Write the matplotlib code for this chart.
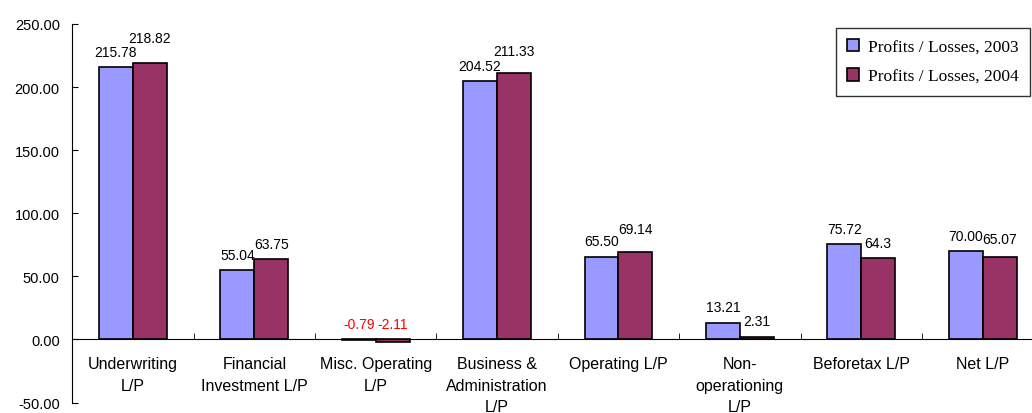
import matplotlib
matplotlib.use("Agg")
import matplotlib.pyplot as plt
import numpy as np

categories = ["Underwriting\nL/P", "Financial\nInvestment L/P", "Misc. Operating\nL/P",
              "Business &\nAdministration\nL/P", "Operating L/P", "Non-\noperationing\nL/P",
              "Beforetax L/P", "Net L/P"]
values_2003 = [215.78, 55.04, -0.79, 204.52, 65.50, 13.21, 75.72, 70.00]
values_2004 = [218.82, 63.75, -2.11, 211.33, 69.14, 2.31, 64.3, 65.07]
labels_2003 = ["215.78", "55.04", "-0.79", "204.52", "65.50", "13.21", "75.72", "70.00"]
labels_2004 = ["218.82", "63.75", "-2.11", "211.33", "69.14", "2.31", "64.3", "65.07"]
series_names = ["Profits / Losses, 2003", "Profits / Losses, 2004"]
yticks = [-50, 0, 50, 100, 150, 200, 250]

# extra lift (points) of some 2004 labels, as placed in the reference to avoid collisions
lift_2004 = [7, 0, 0, 5, 6, 0, 0, 2]

c2003 = "#9999FF"
c2004 = "#993366"

fig = plt.figure(figsize=(10.32, 4.14), dpi=100)
ax = fig.add_axes([72.3/1032, 10.5/414, 971/1032, 378.5/414])

x = np.arange(len(categories))
w = 0.28
b1 = ax.bar(x - w/2, values_2003, w, color=c2003, edgecolor="black", linewidth=1.2, label=series_names[0])
b2 = ax.bar(x + w/2, values_2004, w, color=c2004, edgecolor="black", linewidth=1.2, label=series_names[1])

for xs, vals, labs, lifts in ((x - w/2, values_2003, labels_2003, [0]*len(x)),
                              (x + w/2, values_2004, labels_2004, lift_2004)):
    for xi, v, lab, lf in zip(xs, vals, labs, lifts):
        col = "red" if v < 0 else "black"
        ax.annotate(lab, (xi, max(v, 0)), xytext=(0, 6 + lf), textcoords="offset points",
                    ha="center", va="bottom", fontsize=10, color=col, family="Liberation Sans")

ax.set_xlim(-0.5, len(categories) - 0.5)
ax.set_ylim(-50, 250)
ax.set_yticks(yticks)
ax.set_yticklabels([f"{t:.2f}" for t in yticks], family="Liberation Sans", fontsize=10.5)
ax.tick_params(axis="y", direction="in", length=4, pad=9)

ax.spines["top"].set_visible(False)
ax.spines["right"].set_visible(False)
ax.spines["bottom"].set_position(("data", 0))
ax.set_xticks(x)
ax.set_xticklabels(categories, family="Liberation Sans", fontsize=11.5, linespacing=1.55)
ax.tick_params(axis="x", which="major", length=0, pad=12)
ax.set_xticks(np.arange(len(categories) + 1) - 0.5, minor=True)
ax.tick_params(axis="x", which="minor", direction="in", length=4)

leg = fig.legend(handles=[b1, b2], labels=series_names, loc="upper right",
                 bbox_to_anchor=(1030/1032, 1 - 29/414), prop={"family": "Liberation Serif", "size": 12.5},
                 frameon=True, fancybox=False, edgecolor="black", handlelength=0.7, handleheight=0.7,
                 handletextpad=0.5, labelspacing=0.75, borderpad=0.65, borderaxespad=0)
leg.get_frame().set_linewidth(1.0)

fig.savefig("out.png", dpi=100)
